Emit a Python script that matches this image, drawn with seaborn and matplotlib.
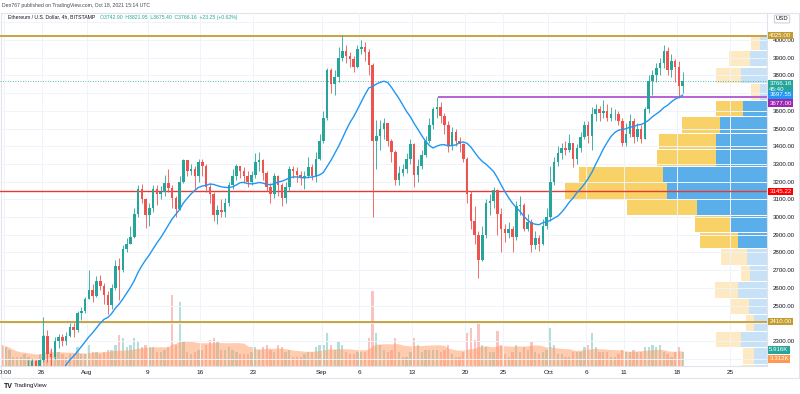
import matplotlib
matplotlib.use('Agg')
import numpy as np
import pandas as pd
import matplotlib.pyplot as plt
import matplotlib.dates as mdates
import matplotlib.transforms as mtransforms
import seaborn as sns

sns.set_style('white')
plt.rcParams['font.family'] = ['Liberation Sans', 'DejaVu Sans']

# ETH/USD, 12h candles from 2021-07-20 12:00 UTC (two per day, AM/PM)
first_open = 1800
close_px = [1785,
    1900, 1995, 2010, 2030, 2060, 2125, 2160, 2185, 2150, 2190, 2330, 2225,
    2210, 2300, 2320, 2300, 2330, 2380, 2360, 2460, 2470, 2540,
    2590, 2555, 2640, 2610, 2560, 2505, 2600, 2725, 2700, 2820, 2850, 2890,
    3020, 3160, 3100, 3010, 3050, 3160, 3130, 3140, 3190, 3165, 3110, 3045,
    3200, 3320, 3260, 3270, 3230, 3310, 3290, 3170, 3130, 3010, 3040, 3030,
    3080, 3180, 3230, 3290, 3260, 3230, 3200, 3240, 3310, 3320, 3250, 3170,
    3130, 3230, 3180, 3110, 3170, 3270, 3260, 3240, 3220, 3230, 3280, 3230,
    3330, 3430,
    3560, 3830, 3750, 3790, 3900, 3940, 3910, 3890, 3850, 3950, 3960, 3930,
    3860, 3430, 3460, 3500, 3530, 3430, 3370, 3210, 3250, 3270, 3330, 3410,
    3240, 3290, 3350, 3430, 3520, 3610, 3620, 3570, 3520, 3400, 3480, 3430,
    3410, 3330, 3130, 2980, 2900, 2760, 2900, 3080, 3090, 3155, 3020, 2930,
    2910, 2930, 2890, 3060, 3070, 2930, 2970, 2840, 2880, 2850, 2950, 3000,
    3200, 3310, 3360, 3390, 3380, 3420, 3330, 3390, 3450, 3520, 3460, 3580,
    3610, 3590, 3600, 3560, 3580, 3580, 3540, 3420, 3470, 3540, 3450, 3500,
    3440, 3610, 3770, 3800, 3840, 3870, 3940, 3830, 3880, 3850, 3743, 3766]
high_px = [1830,
    1910, 2030, 2040, 2045, 2090, 2140, 2190, 2200, 2190, 2200, 2435, 2360,
    2260, 2320, 2340, 2340, 2350, 2400, 2400, 2470, 2490, 2550,
    2700, 2620, 2665, 2670, 2630, 2580, 2620, 2760, 2770, 2840, 2880, 2950,
    3050, 3180, 3185, 3110, 3080, 3180, 3180, 3175, 3240, 3270, 3180, 3120,
    3230, 3330, 3320, 3300, 3290, 3330, 3330, 3300, 3190, 3140, 3070, 3100,
    3110, 3200, 3270, 3300, 3290, 3280, 3260, 3260, 3360, 3370, 3330, 3260,
    3190, 3250, 3240, 3190, 3200, 3290, 3290, 3280, 3260, 3260, 3340, 3300,
    3370, 3470,
    3600, 3840, 3840, 3830, 3960, 4027, 3970, 3930, 3910, 3970, 4000, 3990,
    3950, 3870, 3550, 3550, 3560, 3530, 3440, 3380, 3290, 3300, 3360, 3440,
    3420, 3330, 3380, 3460, 3560, 3620, 3680, 3650, 3590, 3540, 3510, 3500,
    3450, 3420, 3340, 3150, 3060, 2920, 2950, 3100, 3130, 3170, 3160, 3050,
    2960, 2970, 2950, 3090, 3120, 3080, 3020, 2990, 2920, 2900, 2990, 3050,
    3290, 3340, 3400, 3420, 3430, 3470, 3420, 3410, 3480, 3540, 3540, 3620,
    3640, 3630, 3660, 3640, 3620, 3610, 3600, 3560, 3530, 3580, 3560, 3530,
    3520, 3620, 3800, 3830, 3870, 3900, 3970, 3960, 3920, 3890, 3880, 3822]
low_px = [1720,
    1780, 1890, 1960, 1990, 2000, 2040, 2110, 2140, 2120, 2140, 2180, 2180,
    2160, 2200, 2260, 2270, 2280, 2320, 2320, 2350, 2420, 2460,
    2540, 2520, 2550, 2590, 2510, 2450, 2480, 2590, 2530, 2690, 2800, 2850,
    2880, 3000, 3080, 2940, 2950, 3030, 3070, 3100, 3120, 3140, 3050, 3000,
    3040, 3190, 3230, 3240, 3160, 3200, 3230, 3140, 3080, 2980, 2960, 3000,
    3000, 3060, 3160, 3210, 3220, 3190, 3170, 3180, 3220, 3260, 3210, 3150,
    3080, 3110, 3120, 3060, 3080, 3150, 3220, 3200, 3180, 3160, 3220, 3210,
    3200, 3320,
    3420, 3550, 3700, 3690, 3760, 3880, 3870, 3850, 3820, 3840, 3920, 3880,
    3800, 3000, 3270, 3380, 3440, 3400, 3310, 3180, 3180, 3230, 3250, 3300,
    3170, 3200, 3270, 3340, 3420, 3500, 3560, 3530, 3470, 3370, 3380, 3400,
    3370, 3310, 3080, 2930, 2850, 2655, 2750, 2880, 3010, 3050, 2900, 2800,
    2860, 2880, 2800, 2870, 3010, 2920, 2920, 2800, 2820, 2810, 2840, 2930,
    2980, 3180, 3290, 3330, 3350, 3370, 3280, 3300, 3370, 3440, 3420, 3380,
    3540, 3540, 3560, 3540, 3540, 3550, 3520, 3400, 3400, 3450, 3420, 3430,
    3420, 3440, 3590, 3690, 3760, 3800, 3840, 3800, 3790, 3760, 3675, 3700]
volume_k = [9,
    8, 7, 4, 4, 4, 5, 4, 3, 3, 5, 13, 9,
    7, 6, 6, 5, 4, 5, 5, 8, 5, 5,
    9, 6, 6, 5, 6, 7, 7, 9, 13, 12, 8, 9,
    12, 10, 8, 9, 8, 8, 6, 6, 7, 8, 30, 9,
    27, 10, 6, 5, 6, 7, 7, 9, 11, 12, 10, 7,
    7, 8, 7, 6, 5, 5, 5, 6, 8, 7, 8, 9,
    7, 6, 9, 8, 6, 7, 4, 4, 4, 5, 6, 6,
    8, 9,
    9, 14, 9, 7, 10, 9, 6, 5, 5, 6, 6, 6,
    12, 32, 14, 9, 7, 6, 7, 12, 6, 4, 4, 6,
    12, 9, 6, 7, 7, 7, 7, 6, 7, 9, 5, 4,
    4, 6, 14, 16, 11, 18, 9, 8, 6, 6, 15, 9,
    5, 4, 6, 9, 6, 8, 7, 10, 6, 5, 6, 7,
    16, 9, 5, 5, 4, 4, 6, 6, 6, 8, 9, 14,
    8, 6, 6, 6, 4, 4, 5, 7, 6, 6, 7, 6,
    6, 8, 8, 9, 8, 9, 6, 5, 4, 6, 8, 6]

# visible-range volume profile, rows from the top (4034 down, 93.3 per row)
profile_up = [7, 17, 26, 7, 24, 47, 51, 51, 104, 100, 70, 36, 29,
              20, 17, 29, 18, 13, 26, 13, 13]
profile_down = [9, 21, 25, 9, 27, 38, 57, 59, 84, 102, 70, 36, 38,
                26, 9, 23, 19, 8, 25, 11, 13]
value_area = [False, False, False, False, True, True, True, True, True, True,
              True, True, True, False, False, False, False, False, False,
              False, False]
profile_top = 4034
profile_step = 93.3

tick_dates = ['2021-07-21', '2021-07-26', '2021-08-01', '2021-08-09', '2021-08-16',
              '2021-08-23', '2021-09-01', '2021-09-06', '2021-09-13', '2021-09-20',
              '2021-09-25', '2021-10-01', '2021-10-06', '2021-10-11', '2021-10-18',
              '2021-10-25']
tick_labels = ['00:00', '26', 'Aug', '9', '16', '23', 'Sep', '6', '13', '20', '25',
               'Oct', '6', '11', '18', '25']
price_ticks = [2300, 2500, 2600, 2700, 2800, 2900, 3000, 3100, 3200, 3300,
               3400, 3500, 3600, 3800, 3900, 4000]

last_close = 3766.16
ma_last = 3697.55
resist_top = 4025.00
support_low = 2410.00
red_level = 3145.22
purple_level = 3677.00
purple_start = '2021-09-16 08:00'
vol_last = 5.916
vol_ma_last = 3.312

UP = '#26a69a'
DOWN = '#ef5350'

# ---- data frame
t = pd.date_range('2021-07-20 12:00', periods=len(close_px), freq='12h')
df = pd.DataFrame({'close': close_px, 'high': high_px, 'low': low_px, 'vol': volume_k})
df['open'] = df['close'].shift(1).fillna(first_open)
df['high'] = np.maximum(df['high'], df[['open', 'close']].max(axis=1))
df['low'] = np.minimum(df['low'], df[['open', 'close']].min(axis=1))
df['x'] = mdates.date2num(t) + 0.25
df['ma'] = df['close'].rolling(17, min_periods=1).mean()
df['vol_ma'] = df['vol'].rolling(20, min_periods=1).mean()
df['up'] = df['close'] >= df['open']

fig = plt.figure(figsize=(8, 3.94), dpi=100)
fig.patch.set_facecolor('white')
pos = [0, 28 / 394, 767 / 800, 353 / 394]

ax_vol = fig.add_axes(pos, zorder=0)
ax_prof = fig.add_axes(pos, zorder=1)
ax = fig.add_axes(pos, zorder=2, sharex=ax_vol)
ax_prof.patch.set_visible(False)
ax.patch.set_visible(False)

x0 = mdates.date2num(pd.Timestamp('2021-07-20 12:00'))
x1 = x0 + 767 / 7.565
ax.set_xlim(x0, x1)
ymin, ymax = 2158.8, 4152.5
ax.set_ylim(ymin, ymax)

# ---- volume pane
vcol = np.where(df['up'], UP, DOWN)
ax_vol.bar(df['x'], df['vol'], width=0.3, color=vcol, alpha=0.35, linewidth=0)
ax_vol.fill_between(df['x'], 0, df['vol_ma'], color='#ff9a62', alpha=0.5, linewidth=0)
ax_vol.set_ylim(0, 150)
ax_vol.axis('off')

# ---- volume profile
n = len(profile_up)
yc = profile_top - profile_step * (np.arange(n) + 0.5)
up_c = ['#5aaeea' if v else '#c7e2f7' for v in value_area]
dn_c = ['#f9d267' if v else '#fdeac3' for v in value_area]
ax_prof.barh(yc, profile_up, height=profile_step - 6, left=0, color=up_c, linewidth=0)
ax_prof.barh(yc, profile_down, height=profile_step - 6, left=profile_up, color=dn_c, linewidth=0)
ax_prof.set_xlim(767, 0)
ax_prof.set_ylim(ymin, ymax)
ax_prof.axis('off')

# ---- grid
for d in tick_dates:
    ax.axvline(mdates.date2num(pd.Timestamp(d)), color='#f0f3fa', lw=0.7, zorder=0)
for p in range(2200, 4200, 100):
    ax.axhline(p, color='#f0f3fa', lw=0.7, zorder=0)

# ---- levels
ax.axhline(resist_top, color='#c9a43e', lw=1.4, zorder=1)
ax.axhline(support_low, color='#c9a43e', lw=1.4, zorder=1)
ax.axhline(red_level, color='#e53935', lw=1.0, zorder=1)
ax.hlines(purple_level, mdates.date2num(pd.Timestamp(purple_start)), x1,
          color='#b562d4', lw=1.4, zorder=1)
ax.axhline(last_close, color=UP, lw=0.6, ls=(0, (1, 2)), zorder=1)

# ---- candles
ccol = np.where(df['up'], UP, DOWN)
ax.vlines(df['x'], df['low'], df['high'], color=ccol, lw=0.6, zorder=3)
body = (df['close'] - df['open']).abs().clip(lower=4)
ax.bar(df['x'], body, bottom=df[['open', 'close']].min(axis=1), width=0.34,
       color=ccol, linewidth=0, zorder=3)

sns.lineplot(x=df['x'], y=df['ma'], ax=ax, color='#2196f3', lw=1.0, zorder=4,
             legend=False)

# ---- axes styling
ax.set_xticks([mdates.date2num(pd.Timestamp(d)) for d in tick_dates])
ax.set_xticklabels(tick_labels, fontsize=4.6, color='#131722')
ax.yaxis.tick_right()
ax.set_yticks(price_ticks)
ax.set_yticklabels(['%.2f' % v for v in price_ticks], fontsize=4.4, color='#131722')
ax.tick_params(length=0, pad=3)
ax.tick_params(axis='y', pad=4)
ax.set_xlabel('')
ax.set_ylabel('')
for s in ['left', 'top']:
    ax.spines[s].set_visible(False)
for s in ['right', 'bottom']:
    ax.spines[s].set_color('#e0e3eb')
    ax.spines[s].set_linewidth(0.8)
for s in ax_vol.spines.values():
    s.set_visible(False)

# ---- price tags on the right scale
tr = mtransforms.blended_transform_factory(ax.transAxes, ax.transData)
trv = mtransforms.blended_transform_factory(ax.transAxes, ax_vol.transData)


def tag(y, text, bg, transform=tr, fg='white'):
    ax.text(1.003, y, text, transform=transform, fontsize=4.4, color=fg,
            ha='left', va='center', clip_on=False, zorder=10, linespacing=1.15,
            bbox=dict(boxstyle='square,pad=0.22', fc=bg, ec='none'))


tag(resist_top, '%.2f' % resist_top, '#c39b2f')
tag(last_close - 28, '%.2f\n45:40' % last_close, UP)
tag(ma_last - 8, '%.2f' % ma_last, '#2196f3')
tag(purple_level - 33, '%.2f' % purple_level, '#9c27b0')
tag(red_level, '%.2f' % red_level, '#ff0000')
tag(support_low, '%.2f' % support_low, '#c39b2f')
tag(vol_last + 1.0, '%.3fK' % vol_last, UP, transform=trv)
tag(vol_ma_last - 0.3, '%.3fK' % vol_ma_last, '#ff9850', transform=trv)

fig.text(782 / 800, 1 - 19 / 394, 'USD', fontsize=4.2, ha='center', va='center',
         color='#131722',
         bbox=dict(boxstyle='round,pad=0.25', fc='white', ec='#b2b5be', lw=0.5))

# ---- frame and header / footer texts
frame = plt.Rectangle((0.001, 16 / 394), 0.998, 365 / 394, transform=fig.transFigure,
                      fill=False, ec='#e0e3eb', lw=0.8)
fig.patches.append(frame)
fig.text(2 / 800, 1 - 5 / 394, 'Den767 published on TradingView.com, Oct 18, 2021 15:14 UTC',
         fontsize=3.7, color='#434651', va='center')
fig.text(8 / 800, 1 - 17 / 394, 'Ethereum / U.S. Dollar, 4h, BITSTAMP',
         fontsize=3.7, color='#131722', va='center')
fig.text(100 / 800, 1 - 17 / 394,
         'O3742.90  H3821.95  L3675.40  C3766.16  +23.25 (+0.62%)',
         fontsize=3.7, color=UP, va='center')
fig.text(4 / 800, 1 - 386 / 394, 'TV', fontsize=5, fontweight='bold',
         color='#131722', va='center')
fig.text(14 / 800, 1 - 386 / 394, 'TradingView', fontsize=4.4,
         color='#131722', va='center')

fig.savefig('out.png', dpi=100, facecolor='white')
